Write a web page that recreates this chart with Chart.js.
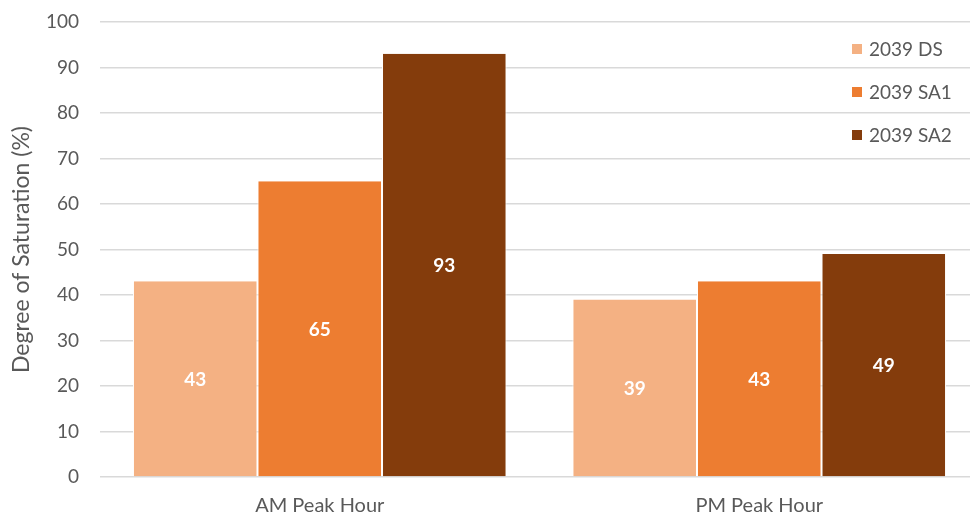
<!DOCTYPE html>
<html><head><meta charset="utf-8">
<script src="https://cdn.jsdelivr.net/npm/chart.js@4"></script>
<style>html,body{margin:0;padding:0;background:#fff;overflow:hidden;width:970px;height:516px}#wrap{width:990px;height:516px}</style>
</head><body><div id="wrap"><canvas id="c" width="990" height="516"></canvas></div>
<script>
const categories = ["AM Peak Hour", "PM Peak Hour"];
const seriesNames = ["2039 DS", "2039 SA1", "2039 SA2"];
const ds2039 = [43, 39];
const sa1_2039 = [65, 43];
const sa2_2039 = [93, 49];
const colors = ["#F4B183", "#ED7D31", "#843C0C"];
const FONT = "Lato, 'Open Sans', sans-serif";
const GREY = "#595959";

const labelPlugin = {
  id: 'labels',
  afterDatasetsDraw(chart) {
    const ctx = chart.ctx;
    ctx.save();
    ctx.font = "bold 19px " + FONT;
    ctx.fillStyle = "#fff";
    ctx.textAlign = "center";
    ctx.textBaseline = "middle";
    chart.data.datasets.forEach((d, i) => {
      chart.getDatasetMeta(i).data.forEach((bar, j) => {
        const y = (bar.y + bar.base) / 2;
        ctx.fillText(String(d.data[j]), bar.x, y + 1);
      });
    });
    // legend
    ctx.font = "19px " + FONT;
    ctx.textAlign = "left";
    chart.data.datasets.forEach((d, i) => {
      const cy = 49 + i * 43;
      ctx.fillStyle = d.backgroundColor;
      ctx.fillRect(852, cy - 5, 10, 10);
      ctx.fillStyle = GREY;
      ctx.fillText(d.label, 869, cy + 1);
    });
    ctx.restore();
  }
};

new Chart(document.getElementById('c'), {
  type: 'bar',
  data: {
    labels: categories,
    datasets: [
      { label: seriesNames[0], data: ds2039, backgroundColor: colors[0] },
      { label: seriesNames[1], data: sa1_2039, backgroundColor: colors[1] },
      { label: seriesNames[2], data: sa2_2039, backgroundColor: colors[2] }
    ].map(d => Object.assign(d, { borderColor: '#fff', borderWidth: {left: 1, right: 1}, borderSkipped: false }))
  },
  options: {
    responsive: false,
    animation: false,
    layout: { padding: { top: 22, right: 11, left: 0, bottom: 0 } },
    datasets: { bar: { categoryPercentage: 0.85, barPercentage: 1 } },
    plugins: { legend: { display: false }, tooltip: { enabled: false } },
    scales: {
      x: {
        grid: { display: false, drawTicks: false },
        border: { display: false },
        ticks: { color: GREY, font: { family: FONT, size: 20 }, padding: 17 },
        afterFit: s => { s.height = 39; s.paddingLeft = 0; s.paddingRight = 0; }
      },
      y: {
        min: 0, max: 100,
        ticks: { stepSize: 10, color: GREY, font: { family: FONT, size: 19 }, padding: 21 },
        grid: { color: '#d9d9d9', lineWidth: 1.5, drawTicks: false },
        border: { display: false },
        title: { display: true, text: 'Degree of Saturation (%)', color: GREY, font: { family: FONT, size: 23 }, padding: { top: 8, bottom: 0 } },
        afterFit: s => { s.width = 100; s.paddingTop = 0; s.paddingBottom = 0; }
      }
    }
  },
  plugins: [labelPlugin]
});
</script></body></html>
